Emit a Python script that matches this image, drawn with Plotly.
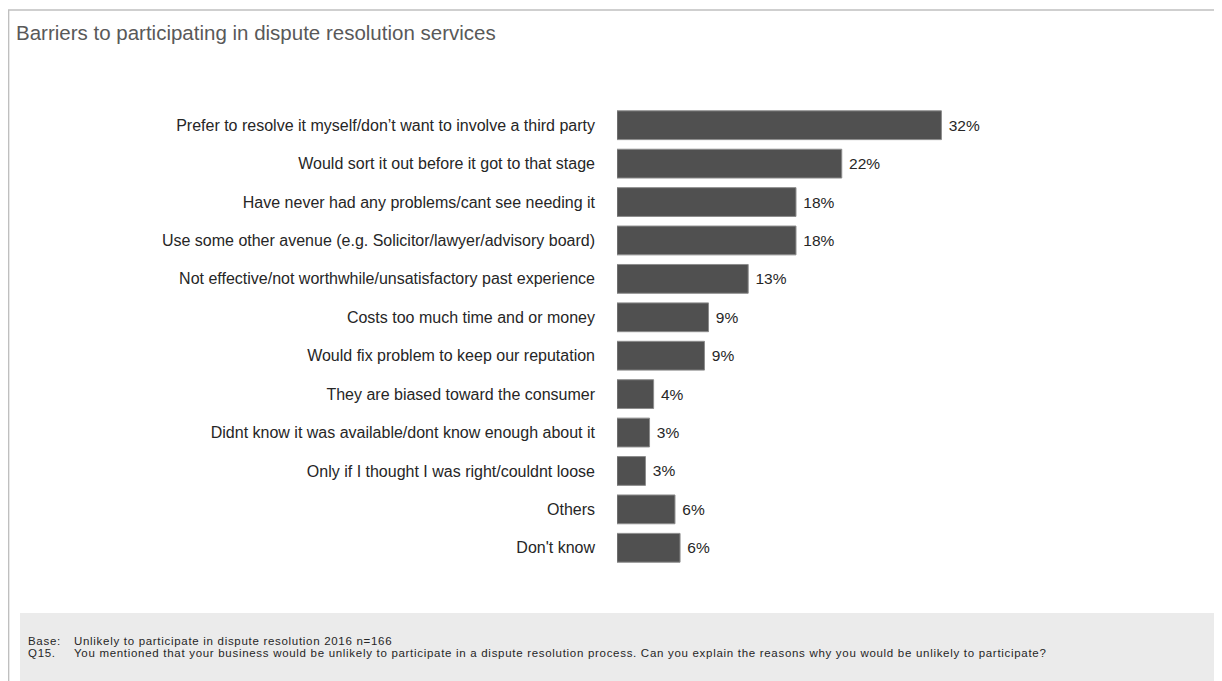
import plotly.graph_objects as go

categories = [
    "Prefer to resolve it myself/don\u2019t want to involve a third party",
    "Would sort it out before it got to that stage",
    "Have never had any problems/cant see needing it",
    "Use some other avenue (e.g. Solicitor/lawyer/advisory board)",
    "Not effective/not worthwhile/unsatisfactory past experience",
    "Costs too much time and or money",
    "Would fix problem to keep our reputation",
    "They are biased toward the consumer",
    "Didnt know it was available/dont know enough about it",
    "Only if I thought I was right/couldnt loose",
    "Others",
    "Don't know",
]
values = [31.9, 22.1, 17.6, 17.6, 12.9, 9.0, 8.6, 3.6, 3.2, 2.8, 5.7, 6.2]
labels = ["32%", "22%", "18%", "18%", "13%", "9%", "9%", "4%", "3%", "3%", "6%", "6%"]

title_text = "Barriers to participating in dispute resolution services"
base_label = "Base:"
base_text = "Unlikely to participate in dispute resolution 2016 n=166"
q_label = "Q15."
q_text = ("You mentioned that your business would be unlikely to participate in a dispute "
          "resolution process. Can you explain the reasons why you would be unlikely to participate?")

# The page body has an 8px margin; positions below are page pixels of the reference.
OFF = 8
W, H = 1222 - OFF, 681 - OFF
L, R, T, B = 617 - OFF, 5, 106 - OFF, 681 - 567
pw, ph = W - L - R, H - T - B


def px(x):
    return (x - OFF - L) / pw


def py(y):
    return (H - B - (y - OFF)) / ph


fig = go.Figure(go.Bar(
    x=values, y=categories, orientation="h",
    marker=dict(color="#505050", line=dict(color="#8c8c8c", width=1)),
    text=["\u00a0" + s for s in labels], textposition="outside",
    textfont=dict(family="Liberation Sans, Arial, sans-serif", size=15.5, color="#262626"),
    cliponaxis=False, hoverinfo="skip",
))

shapes = [
    dict(type="rect", xref="paper", yref="paper", x0=px(20), x1=px(1240), y0=py(700), y1=py(613),
         fillcolor="#ebebeb", line=dict(width=0), layer="below"),
    dict(type="line", xref="paper", yref="paper", x0=px(8.6), x1=px(8.6), y0=py(10), y1=py(700),
         line=dict(color="#bfbfbf", width=1.5)),
    dict(type="line", xref="paper", yref="paper", x0=px(8), x1=px(1240), y0=py(10), y1=py(10),
         line=dict(color="#bfbfbf", width=1.5)),
]

foot_font = dict(family="Liberation Sans, Arial, sans-serif", size=11.5, color="#262626")


def spaced(s):
    return '<span style="letter-spacing:0.7px">' + s + '</span>'


annotations = [
    dict(text=title_text, xref="paper", yref="paper", x=px(14), y=py(33), xanchor="left", yanchor="middle",
         showarrow=False, font=dict(family="Liberation Sans, Arial, sans-serif", size=20.5, color="#595959")),
    dict(text=spaced(base_label), xref="paper", yref="paper", x=px(26), y=py(641), xanchor="left",
         yanchor="middle", showarrow=False, font=foot_font),
    dict(text=spaced(base_text), xref="paper", yref="paper", x=px(72), y=py(641), xanchor="left",
         yanchor="middle", showarrow=False, font=foot_font),
    dict(text=spaced(q_label), xref="paper", yref="paper", x=px(26), y=py(653), xanchor="left",
         yanchor="middle", showarrow=False, font=foot_font),
    dict(text=spaced(q_text), xref="paper", yref="paper", x=px(72), y=py(653), xanchor="left",
         yanchor="middle", showarrow=False, font=foot_font),
]

fig.update_layout(
    width=W, height=H,
    margin=dict(l=L, r=R, t=T, b=B, autoexpand=False),
    paper_bgcolor="white", plot_bgcolor="white",
    bargap=0.25, showlegend=False,
    xaxis=dict(range=[0, pw / 10.17], visible=False, fixedrange=True),
    yaxis=dict(autorange="reversed", showgrid=False, showline=False, zeroline=False, ticks="",
               ticklabelstandoff=21,
               tickfont=dict(family="Liberation Sans, Arial, sans-serif", size=16, color="#262626")),
    shapes=shapes, annotations=annotations,
)

fig.write_html("out.html")
